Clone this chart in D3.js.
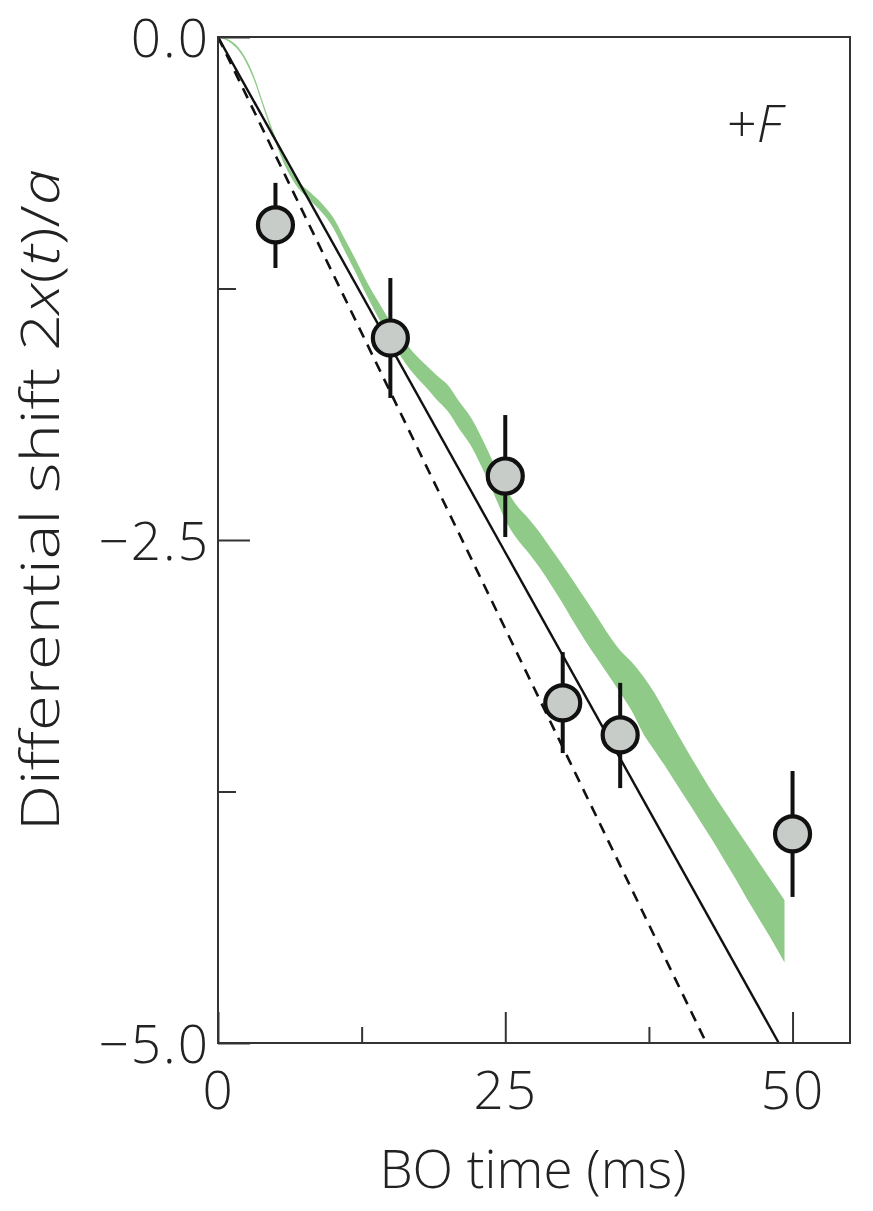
<!DOCTYPE html>
<html>
<head>
<meta charset="utf-8">
<script src="https://cdn.jsdelivr.net/npm/d3@7"></script>
<style>
html,body{margin:0;padding:0;background:#fff;}
svg{display:block;}
text{font-family:"Open Sans","Noto Sans",sans-serif;fill:#222;font-weight:300;}
</style>
</head>
<body>
<svg id="chart" width="873" height="1211"></svg>
<script>
// ---- data ----
const pointT = [5, 15, 25, 30, 35, 50];
const pointY = [-0.934, -1.496, -2.182, -3.31, -3.469, -3.961];
const errHi = [-0.725, -1.198, -1.879, -3.057, -3.21, -3.648];
const errLo = [-1.148, -1.794, -2.485, -3.559, -3.733, -4.274];

const solidT = [0, 48.8];
const solidY = [0, -5];
const dashedT = [0, 42.5];
const dashedY = [0, -5];

const bandT = [0,1,2,3,4,5,6,7,8,9,10,11,12,13,14,15,16,17,18,19,20,21,22,23,24,25,26,27,28,29,30,31,32,33,34,35,36,37,38,39,40,41,42,43,44,45,46,47,48,49.3];
const bandUpper = [0,-0.015,-0.068,-0.175,-0.34,-0.498,-0.63,-0.718,-0.77,-0.825,-0.895,-1.0,-1.108,-1.221,-1.32,-1.415,-1.495,-1.568,-1.625,-1.68,-1.73,-1.813,-1.89,-1.998,-2.12,-2.24,-2.328,-2.392,-2.463,-2.545,-2.625,-2.71,-2.796,-2.883,-2.971,-3.049,-3.106,-3.177,-3.262,-3.364,-3.464,-3.563,-3.659,-3.753,-3.84,-3.925,-4.01,-4.095,-4.18,-4.29];
const bandLower = [0,-0.025,-0.083,-0.195,-0.36,-0.523,-0.66,-0.753,-0.81,-0.87,-0.945,-1.06,-1.173,-1.291,-1.40,-1.505,-1.595,-1.673,-1.735,-1.80,-1.86,-1.948,-2.03,-2.143,-2.27,-2.40,-2.493,-2.562,-2.638,-2.725,-2.815,-2.913,-3.004,-3.089,-3.173,-3.259,-3.349,-3.462,-3.547,-3.632,-3.721,-3.81,-3.90,-3.99,-4.085,-4.18,-4.28,-4.375,-4.47,-4.60];

const xMajorTicks = [0, 25, 50];
const xMinorTicks = [12.5, 37.5];
const yMajorTicks = [0, -2.5, -5];
const yMinorTicks = [-1.25, -3.75];
const xTickLabels = ["0", "25", "50"];
const yTickLabels = ["0.0", "\u22122.5", "\u22125.0"];

// ---- layout ----
const L = 218, R = 850, T = 37, B = 1043;
const svg = d3.select("#chart");
const x = d3.scaleLinear().domain([0, 55]).range([L, R]);
const y = d3.scaleLinear().domain([0, -5]).range([T, B]);

// green band
const band = bandT.map((t, i) => ({t, u: bandUpper[i], l: bandLower[i]}));
svg.append("path")
  .datum(band)
  .attr("fill", "#8fca89")
  .attr("d", d3.area().x(d => x(d.t)).y0(d => y(d.l)).y1(d => y(d.u)).curve(d3.curveMonotoneX));

// lines
const lineGen = d3.line().x(d => x(d[0])).y(d => y(d[1]));
svg.append("path")
  .attr("d", lineGen(dashedT.map((t, i) => [t, dashedY[i]])))
  .attr("fill", "none").attr("stroke", "#111").attr("stroke-width", 2.6)
  .attr("stroke-dasharray", "11,8");
svg.append("path")
  .attr("d", lineGen(solidT.map((t, i) => [t, solidY[i]])))
  .attr("fill", "none").attr("stroke", "#111").attr("stroke-width", 2.4);

// error bars
svg.append("g").selectAll("line").data(pointT).join("line")
  .attr("x1", d => x(d)).attr("x2", d => x(d))
  .attr("y1", (d, i) => y(errHi[i])).attr("y2", (d, i) => y(errLo[i]))
  .attr("stroke", "#111").attr("stroke-width", 4);

// points
svg.append("g").selectAll("circle").data(pointT).join("circle")
  .attr("cx", d => x(d)).attr("cy", (d, i) => y(pointY[i]))
  .attr("r", 17.5)
  .attr("fill", "#c7ccc9").attr("stroke", "#111").attr("stroke-width", 4.2);

// axes
function styleAxis(g) {
  g.select(".domain").remove();
  g.selectAll(".tick line").attr("stroke", "#333").attr("stroke-width", 2);
  g.selectAll(".tick text").attr("font-size", 53).attr("fill", "#222")
    .attr("letter-spacing", 2)
    .style("font-family", '"Open Sans","Noto Sans",sans-serif')
    .style("font-weight", 300);
}
svg.append("g").attr("transform", `translate(0,${B})`)
  .call(d3.axisBottom(x).tickValues(xMajorTicks).tickSizeInner(-31).tickPadding(0)
    .tickFormat((d, i) => xTickLabels[i]))
  .call(styleAxis)
  .call(g => g.selectAll(".tick text").attr("y", 66).attr("dy", null));
svg.append("g").attr("transform", `translate(0,${B})`)
  .call(d3.axisBottom(x).tickValues(xMinorTicks).tickSizeInner(-16).tickFormat(""))
  .call(styleAxis);
svg.append("g").attr("transform", `translate(${L},0)`)
  .call(d3.axisLeft(y).tickValues(yMajorTicks).tickSizeInner(-32).tickPadding(0)
    .tickFormat((d, i) => yTickLabels[i]))
  .call(styleAxis)
  .call(g => g.selectAll(".tick text").attr("x", -8).attr("dy", "0.36em"));
svg.append("g").attr("transform", `translate(${L},0)`)
  .call(d3.axisLeft(y).tickValues(yMinorTicks).tickSizeInner(-18).tickFormat(""))
  .call(styleAxis);

// frame
svg.append("rect").attr("x", L).attr("y", T).attr("width", R - L).attr("height", B - T)
  .attr("fill", "none").attr("stroke", "#333").attr("stroke-width", 2);

// annotation
const ann = svg.append("text").attr("x", 727).attr("y", 142).attr("font-size", 52);
ann.append("tspan").text("+");
ann.append("tspan").attr("font-style", "italic").text("F");

// x label
svg.append("text").attr("x", 533).attr("y", 1188).attr("text-anchor", "middle")
  .attr("font-size", 53).text("BO time (ms)");

// y label (scaled along its own direction to match the reference length)
const yl = svg.append("text")
  .attr("transform", "translate(59,500) rotate(-90) scale(1.23,1)")
  .attr("text-anchor", "middle").attr("font-size", 53);
yl.append("tspan").text("Differential shift 2");
yl.append("tspan").attr("font-style", "italic").text("x");
yl.append("tspan").text("(");
yl.append("tspan").attr("font-style", "italic").text("t");
yl.append("tspan").text(")/");
yl.append("tspan").attr("font-style", "italic").text("a");
</script>
</body>
</html>
